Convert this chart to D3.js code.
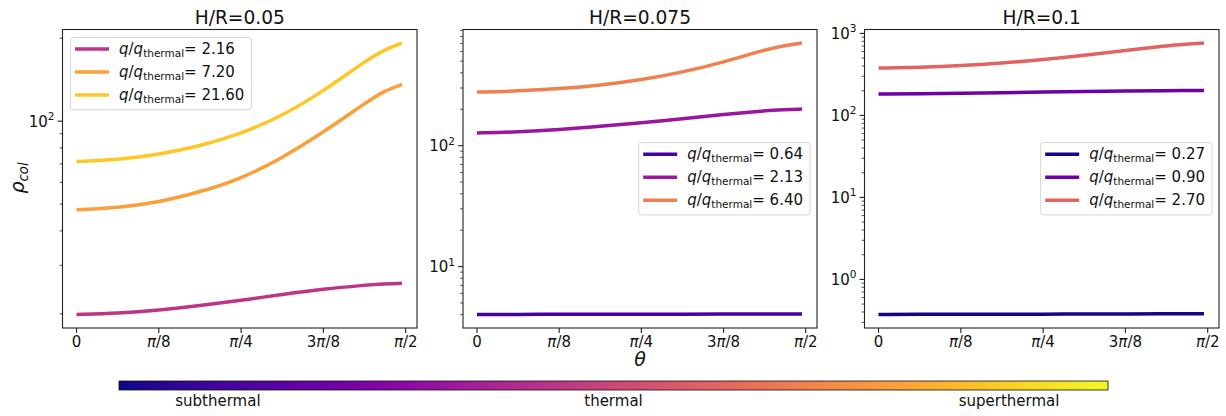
<!DOCTYPE html>
<html><head><meta charset="utf-8">
<script src="https://cdn.jsdelivr.net/npm/d3@7"></script>
<style>
body{margin:0;background:#fff;}
svg{font-family:"DejaVu Sans",sans-serif;display:block;}
</style>
</head><body>
<svg id="chart" width="1226" height="416"></svg>
<script>
// ---------- data ----------
const theta = [0, 0.196, 0.393, 0.589, 0.785, 0.982, 1.178, 1.374, 1.464, 1.553];
const xTickLabels = [["0"], ["π", "/8"], ["π", "/4"], ["3", "π", "/8"], ["π", "/2"]];
const xTickFractions = [0, 1/8, 1/4, 3/8, 1/2]; // multiples of π

const titles = ["H/R=0.05", "H/R=0.075", "H/R=0.1"];

// panel 1 (H/R=0.05)
const p1Labels = ["2.16", "7.20", "21.60"];
const p1Colors = [0.44, 0.78, 0.885];
const p1_q216 = [19.9, 20.1, 20.6, 21.4, 22.4, 23.5, 24.6, 25.4, 25.7, 25.8];
const p1_q720 = [47.7, 48.5, 50.8, 55.3, 61.8, 73.5, 91.2, 115.6, 128.5, 135.9];
const p1_q2160 = [71.4, 72.4, 75.7, 81.2, 90.0, 104.5, 128.5, 164.5, 181.0, 192.0];

// panel 2 (H/R=0.075)
const p2Labels = ["0.64", "2.13", "6.40"];
const p2Colors = [0.11, 0.33, 0.69];
const p2_q064 = [4.02, 4.02, 4.03, 4.03, 4.04, 4.04, 4.05, 4.05, 4.06, 4.06];
const p2_q213 = [127.3, 129.7, 135.6, 144.5, 154.5, 167.2, 181.5, 194.7, 198.5, 201.0];
const p2_q640 = [277.7, 283, 296, 316, 350, 405, 490, 621, 672, 706];

// panel 3 (H/R=0.1)
const p3Labels = ["0.27", "0.90", "2.70"];
const p3Colors = [0.01, 0.21, 0.6];
const p3_q027 = [0.374, 0.375, 0.375, 0.376, 0.377, 0.378, 0.379, 0.380, 0.381, 0.381];
const p3_q090 = [182.0, 183.7, 185.5, 189.0, 192.6, 196.2, 198.6, 200.6, 201.3, 201.8];
const p3_q270 = [377.7, 385, 403, 435, 477, 539, 620, 707, 741, 762];

const colorbarLabels = ["subthermal", "thermal", "superthermal"];

// ---------- layout ----------
const panels = [
  {title: titles[0], labels: p1Labels, colors: p1Colors, series: [p1_q216, p1_q720, p1_q2160], x0: 62.5, x1: 417, legend: "upper left"},
  {title: titles[1], labels: p2Labels, colors: p2Colors, series: [p2_q064, p2_q213, p2_q640], x0: 463, x1: 817, legend: "center right"},
  {title: titles[2], labels: p3Labels, colors: p3Colors, series: [p3_q027, p3_q090, p3_q270], x0: 864.5, x1: 1219, legend: "center right"}
];
const axTop = 29.5, axBottom = 328;
const FS = 15;
const svg = d3.select("#chart");

function superscriptLabel(sel, v) {
  const e = Math.round(Math.log10(v));
  sel.append("tspan").text("10");
  sel.append("tspan").attr("font-size", FS * 0.7).attr("dy", -6.5).text(String(e));
}

panels.forEach((p, pi) => {
  const g = svg.append("g");
  const x = d3.scaleLinear().domain([-0.0669, 1.6247]).range([p.x0, p.x1]);
  const all = p.series.flat();
  const lmin = Math.log10(d3.min(all)), lmax = Math.log10(d3.max(all));
  const m = (lmax - lmin) * 0.05;
  const y = d3.scaleLog().domain([Math.pow(10, lmin - m), Math.pow(10, lmax + m)]).range([axBottom, axTop]);

  // lines
  const line = d3.line().x((d, i) => x(theta[i])).y(d => y(d)).curve(d3.curveBasis);
  p.series.forEach((s, si) => {
    g.append("path").attr("d", line(s)).attr("fill", "none")
      .attr("stroke", d3.interpolatePlasma(p.colors[si])).attr("stroke-width", 3.5)
      .attr("stroke-linecap", "butt");
  });

  // frame
  g.append("rect").attr("x", p.x0).attr("y", axTop).attr("width", p.x1 - p.x0).attr("height", axBottom - axTop)
    .attr("fill", "none").attr("stroke", "#222").attr("stroke-width", 1.1);

  // x ticks
  xTickFractions.forEach((f, i) => {
    const xv = x(f * Math.PI);
    g.append("line").attr("x1", xv).attr("x2", xv).attr("y1", axBottom).attr("y2", axBottom + 4.9)
      .attr("stroke", "#222").attr("stroke-width", 1.1);
    const t = g.append("text").attr("x", xv).attr("y", axBottom + 19).attr("text-anchor", "middle")
      .attr("font-size", FS).attr("fill", "#111");
    xTickLabels[i].forEach(part => {
      const ts = t.append("tspan").text(part);
      if (part === "π") ts.attr("font-style", "italic");
    });
  });

  // y ticks (log)
  const yt = y.ticks();
  yt.forEach(v => {
    const lg = Math.log10(v);
    const major = Math.abs(lg - Math.round(lg)) < 1e-9;
    const yv = y(v);
    g.append("line").attr("x1", p.x0).attr("x2", p.x0 - (major ? 4.9 : 2.8)).attr("y1", yv).attr("y2", yv)
      .attr("stroke", "#222").attr("stroke-width", major ? 1.1 : 0.8);
    if (major) {
      const t = g.append("text").attr("x", p.x0 - 8).attr("y", yv + 5.5).attr("text-anchor", "end")
        .attr("font-size", FS).attr("fill", "#111");
      superscriptLabel(t, v);
    }
  });

  // title
  g.append("text").attr("x", (p.x0 + p.x1) / 2).attr("y", 24).attr("text-anchor", "middle")
    .attr("font-size", 18.6).attr("fill", "#111").text(p.title);

  // legend
  const lg = g.append("g");
  const box = lg.append("rect").attr("rx", 3).attr("ry", 3).attr("fill", "#fff").attr("fill-opacity", 0.8)
    .attr("stroke", "#d6d6d6").attr("stroke-width", 1);
  const texts = [];
  p.labels.forEach((lab, i) => {
    const cy = 11.6 + i * 23;
    lg.append("line").attr("x1", 4.5).attr("x2", 38.5).attr("y1", cy).attr("y2", cy)
      .attr("stroke", d3.interpolatePlasma(p.colors[i])).attr("stroke-width", 3.5);
    const t = lg.append("text").attr("x", 48.5).attr("y", cy + 5).attr("font-size", FS).attr("fill", "#111");
    t.append("tspan").attr("font-style", "italic").text("q");
    t.append("tspan").text("/");
    t.append("tspan").attr("font-style", "italic").text("q");
    t.append("tspan").attr("font-size", FS * 0.7).attr("dy", 3).text("thermal");
    t.append("tspan").attr("dy", -3).text("= " + lab);
    texts.push(t);
  });
  const tw = d3.max(texts, t => t.node().getBBox().width);
  const bw = 48.5 + tw + 7, bh = 72.3;
  box.attr("x", 0).attr("y", 0).attr("width", bw).attr("height", bh);
  let bx, by;
  if (p.legend === "upper left") { bx = p.x0 + 8; by = axTop + 8; }
  else { bx = p.x1 - 7 - bw; by = (axTop + axBottom) / 2 - bh / 2; }
  lg.attr("transform", `translate(${bx},${by})`);
});

// axis labels
const yl = svg.append("text").attr("transform", "translate(24,178) rotate(-90)").attr("text-anchor", "middle")
  .attr("font-size", 19).attr("fill", "#111");
yl.append("tspan").attr("font-style", "italic").text("ρ");
yl.append("tspan").attr("font-style", "italic").attr("font-size", 13.3).attr("dy", 4).text("col");

svg.append("text").attr("x", (panels[1].x0 + panels[1].x1) / 2).attr("y", 366).attr("text-anchor", "middle")
  .attr("font-size", 19).attr("font-style", "italic").attr("fill", "#111").text("θ");

// colorbar
const cb = {x0: 119, x1: 1108, y0: 381, y1: 390};
const defs = svg.append("defs");
const grad = defs.append("linearGradient").attr("id", "plasma").attr("x1", "0%").attr("x2", "100%");
d3.range(0, 1.0001, 0.02).forEach(t => {
  grad.append("stop").attr("offset", (t * 100) + "%").attr("stop-color", d3.interpolatePlasma(t));
});
svg.append("rect").attr("x", cb.x0).attr("y", cb.y0).attr("width", cb.x1 - cb.x0).attr("height", cb.y1 - cb.y0)
  .attr("fill", "url(#plasma)").attr("stroke", "#111").attr("stroke-width", 0.8);
const cbx = d3.scaleLinear().domain([0, 1]).range([cb.x0, cb.x1]);
[0.1, 0.5, 0.9].forEach((t, i) => {
  svg.append("text").attr("x", cbx(t)).attr("y", 406).attr("text-anchor", "middle")
    .attr("font-size", FS).attr("fill", "#111").text(colorbarLabels[i]);
});
</script>
</body></html>
